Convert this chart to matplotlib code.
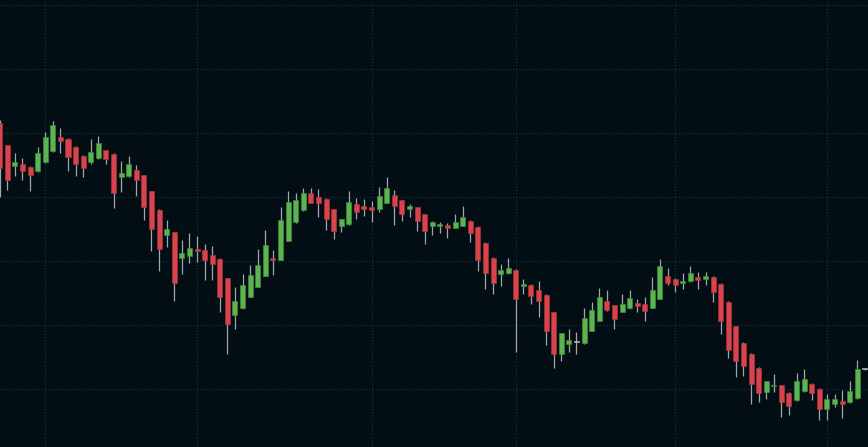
import matplotlib
matplotlib.use("Agg")
import matplotlib.pyplot as plt
import numpy as np

# daily OHLC (arbitrary price units)
opens = [51.6, 48.1, 44.8, 45.2, 44.7, 44.0, 45.4, 47.2, 49.4, 49.1,
         47.8, 46.4, 45.4, 46.1, 47.3, 46.7, 43.2, 43.3, 44.2, 43.4,
         40.9, 38.0, 34.0, 34.5, 30.4, 30.8, 31.9, 31.7, 30.9, 30.3,
         27.3, 21.5, 22.6, 24.4, 26.0, 27.7, 30.5, 30.2, 33.2, 36.1,
         37.9, 40.6, 40.0, 39.7, 38.1, 35.4, 35.8, 38.9, 38.6, 38.4,
         38.2, 39.1, 40.3, 39.5, 38.2, 38.4, 37.3, 35.4, 35.5, 35.6,
         35.2, 35.5, 36.3, 35.3, 32.8, 30.5, 27.9, 28.2, 28.6, 26.1,
         26.3, 25.5, 24.7, 22.0, 15.5, 17.1, 17.3, 17.2, 19.1, 20.7,
         23.8, 23.1, 22.1, 22.6, 23.5, 23.3, 22.7, 24.1, 27.7, 27.2,
         26.6, 26.8, 27.5, 27.2, 27.5, 26.4, 23.6, 19.8, 17.2, 15.5,
         13.3, 9.6, 10.4, 10.6, 9.4, 8.3, 9.7, 10.8, 10.0, 6.9,
         7.6, 8.1, 7.9, 8.6, 13.1]
highs = [52.0, 48.2, 46.9, 46.1, 44.8, 47.8, 50.2, 51.8, 50.8, 49.2,
         47.9, 46.5, 49.1, 49.5, 47.4, 46.8, 45.6, 46.4, 45.0, 43.5,
         41.0, 38.1, 36.4, 34.6, 33.3, 34.4, 33.9, 32.7, 32.3, 30.4,
         27.4, 26.0, 28.0, 29.4, 31.9, 34.8, 31.7, 38.4, 40.9, 40.6,
         41.4, 41.4, 41.3, 39.8, 38.2, 36.6, 40.9, 39.8, 39.7, 39.4,
         41.6, 43.1, 41.1, 39.6, 38.9, 38.5, 37.4, 36.3, 36.1, 36.0,
         37.3, 38.6, 36.4, 35.4, 32.9, 30.6, 29.6, 30.5, 28.7, 27.2,
         26.4, 26.8, 24.8, 22.1, 18.8, 19.3, 18.9, 22.6, 23.6, 25.8,
         25.5, 23.2, 24.8, 25.5, 24.1, 24.4, 27.5, 30.3, 28.9, 27.3,
         28.1, 29.2, 28.3, 28.3, 27.6, 26.5, 23.7, 19.9, 17.3, 15.6,
         13.4, 11.3, 12.3, 10.7, 9.5, 12.5, 13.1, 10.9, 10.1, 9.2,
         9.2, 9.8, 11.3, 14.5, 13.3]
lows = [40.0, 41.1, 43.3, 42.6, 40.9, 43.9, 45.3, 47.1, 46.9, 44.0,
        43.3, 43.1, 45.2, 46.0, 45.2, 38.3, 40.8, 43.2, 40.2, 36.4,
        31.6, 28.5, 32.2, 23.8, 28.0, 29.7, 29.9, 27.1, 27.1, 22.1,
        15.4, 19.4, 22.5, 24.3, 25.9, 27.6, 27.8, 30.1, 33.1, 36.0,
        37.8, 39.0, 36.8, 34.8, 33.5, 34.6, 35.7, 36.6, 37.0, 36.1,
        37.6, 39.0, 35.7, 36.3, 36.8, 34.7, 32.7, 34.0, 34.4, 33.6,
        35.1, 35.4, 33.0, 28.5, 25.7, 24.9, 26.1, 27.9, 15.8, 24.9,
        23.3, 21.3, 16.8, 13.3, 14.4, 15.8, 15.4, 17.1, 19.0, 20.6,
        22.2, 19.3, 22.0, 22.5, 22.1, 20.7, 22.6, 24.0, 26.3, 25.1,
        25.7, 26.7, 25.7, 26.3, 23.6, 18.6, 14.9, 11.9, 12.1, 7.7,
        8.0, 8.5, 9.6, 5.7, 6.0, 8.2, 9.6, 8.3, 5.2, 5.1,
        7.2, 5.5, 7.8, 8.5, 12.9]
closes = [44.5, 42.7, 45.5, 44.0, 43.4, 46.9, 49.4, 51.3, 48.8, 46.3,
          45.1, 44.5, 47.0, 48.4, 46.0, 40.7, 43.8, 45.2, 42.6, 38.5,
          35.0, 31.8, 35.0, 26.5, 31.3, 32.0, 31.5, 30.1, 29.5, 24.3,
          20.1, 23.8, 26.3, 27.8, 29.4, 32.5, 30.1, 36.4, 39.2, 39.5,
          40.6, 39.1, 39.1, 36.5, 34.7, 36.6, 39.2, 37.6, 38.1, 37.9,
          40.2, 41.4, 38.6, 37.4, 38.6, 36.3, 34.7, 36.1, 35.8, 35.1,
          36.1, 36.9, 34.4, 30.1, 28.2, 26.6, 28.6, 28.9, 24.1, 26.4,
          24.6, 23.8, 19.1, 15.4, 18.8, 17.7, 17.3, 21.1, 22.3, 24.4,
          22.4, 21.0, 23.3, 24.2, 22.9, 22.2, 25.5, 29.2, 26.6, 26.3,
          26.9, 28.1, 27.1, 27.7, 25.1, 20.7, 16.1, 14.4, 13.6, 10.8,
          9.3, 11.3, 10.6, 8.0, 7.4, 11.3, 11.6, 9.3, 6.8, 8.4,
          8.4, 7.7, 9.7, 13.1, 13.1]

# session boundaries that carry the vertical grid lines
grid_idx = [6, 26, 49, 68, 89, 109]
price_grid = [10, 20, 30, 40, 50, 60, 70]

BG = '#020d14'
GRID = '#0d3345'
UP = '#5db352'
UP_EDGE = '#3d8a36'
DOWN = '#d9434b'
DOWN_EDGE = '#a8323a'
FLAT = '#b5b5b5'
WICK = '#a3a6a8'

o = np.array(opens)
h = np.array(highs)
l = np.array(lows)
c = np.array(closes)
idx = np.arange(len(o))

face = np.where(c > o, UP, np.where(c < o, DOWN, FLAT))
edge = np.where(c > o, UP_EDGE, np.where(c < o, DOWN_EDGE, FLAT))
bottom = np.minimum(o, c)
height = np.maximum(np.abs(c - o), 0.22)

fig = plt.figure(figsize=(8.68, 4.47), dpi=100)
fig.patch.set_facecolor(BG)
ax = fig.add_axes([0, 0, 1, 1])
ax.set_facecolor(BG)

ax.vlines(idx, l, h, color=WICK, linewidth=0.9, zorder=2)
ax.bar(idx, height, bottom=bottom, width=0.66, color=face,
       edgecolor=edge, linewidth=0.5, zorder=3)

ax.set_xlim(0.04, 114.41)
ax.set_ylim(0.94, 70.78)
ax.set_xticks(grid_idx)
ax.set_yticks(price_grid)
ax.grid(True, color=GRID, linestyle=(0, (1, 1.5)), linewidth=0.9, zorder=0)
ax.tick_params(length=0, labelbottom=False, labelleft=False)
for spine in ax.spines.values():
    spine.set_visible(False)

plt.savefig('out.png', dpi=100, facecolor=BG)
